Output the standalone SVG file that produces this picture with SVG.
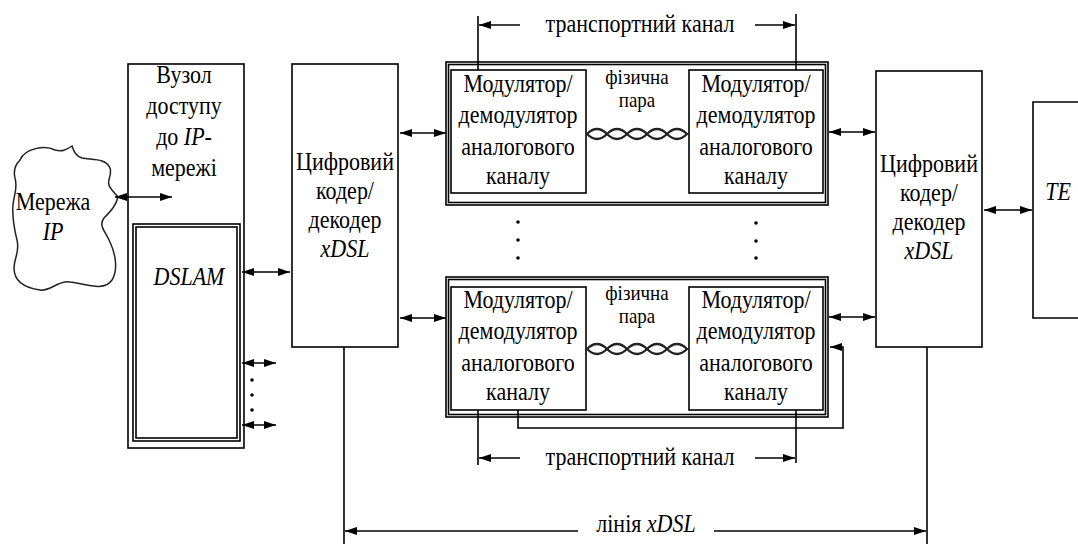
<svg xmlns="http://www.w3.org/2000/svg" width="1078" height="544" viewBox="0 0 1078 544">
<style>
.b{fill:none;stroke:#000;stroke-width:1.6}
.l{fill:none;stroke:#000;stroke-width:1.6}
.t{font-family:'Liberation Serif',serif;font-size:22px;fill:#000;text-anchor:middle}
.s{font-family:'Liberation Serif',serif;font-size:19px;fill:#000;text-anchor:middle}
.i{font-style:italic}
.tw{fill:none;stroke:#222;stroke-width:2.2}
</style>
<defs>
<marker id="ah" markerWidth="12" markerHeight="8" refX="12" refY="4" orient="auto-start-reverse" markerUnits="userSpaceOnUse">
<path d="M0,0 L12,4 L0,8 Z" fill="#000"/>
</marker>
</defs>
<rect width="1078" height="544" fill="#fff"/>

<g id="cloud">
<path d="M20,160 C25,148 45,145 55,150 C62,152 66,150 72,146 C74,152 76,156 82,158 C92,160 106,158 110,168 C113,176 104,182 112,190 L118,197 C116,205 112,210 104,218 C98,226 106,232 110,242 C116,255 118,270 112,280 C104,292 86,284 70,282 C58,280 50,292 40,290 C26,288 14,282 14,268 C14,258 20,252 17,240 C14,228 12,218 13,205 C14,194 18,188 15,178 C13,170 16,164 20,160 Z" fill="none" stroke="#222" stroke-width="1.5"/>
<text class="t" transform="translate(53,210) scale(1,1.15)">Мережа</text>
<text class="t i" transform="translate(53,240) scale(1,1.15)">IP</text>
</g>

<g id="access-node">
<rect class="b" x="128" y="64" width="116" height="384"/>
<text class="t" transform="translate(184,83) scale(1,1.15)">Вузол</text>
<text class="t" transform="translate(184,114) scale(1,1.15)">доступу</text>
<text class="t" transform="translate(184,145) scale(1,1.15)">до <tspan class="i">IP</tspan>-</text>
<text class="t" transform="translate(184,176) scale(1,1.15)">мережі</text>
</g>

<g id="dslam">
<rect class="b" x="133" y="224" width="107" height="217"/>
<rect class="l" x="136" y="227" width="101" height="211" stroke-width="1"/>
<text class="t i" transform="translate(189,285) scale(1,1.15)">DSLAM</text>
</g>

<g id="coder-left">
<rect class="b" x="292" y="64" width="106" height="283"/>
<text class="t" transform="translate(345,170) scale(1,1.15)">Цифровий</text>
<text class="t" transform="translate(345,199) scale(1,1.15)">кодер/</text>
<text class="t" transform="translate(345,228) scale(1,1.15)">декодер</text>
<text class="t i" transform="translate(345,257) scale(1,1.15)">xDSL</text>
</g>

<g id="group-upper">
<rect class="b" x="446" y="62" width="382" height="143"/>
<rect class="l" x="448.5" y="64.5" width="377" height="138" stroke-width="1"/>
</g>
<g id="mod-upper-left">
<rect class="b" x="451" y="70" width="135" height="123"/>
<text class="t" transform="translate(518,92) scale(1,1.15)">Модулятор/</text>
<text class="t" transform="translate(518,123) scale(1,1.15)">демодулятор</text>
<text class="t" transform="translate(518,155) scale(1,1.15)">аналогового</text>
<text class="t" transform="translate(518,184) scale(1,1.15)">каналу</text>
</g>
<g id="mod-upper-right">
<rect class="b" x="689" y="70" width="134" height="123"/>
<text class="t" transform="translate(756,92) scale(1,1.15)">Модулятор/</text>
<text class="t" transform="translate(756,123) scale(1,1.15)">демодулятор</text>
<text class="t" transform="translate(756,155) scale(1,1.15)">аналогового</text>
<text class="t" transform="translate(756,184) scale(1,1.15)">каналу</text>
</g>
<g id="pair-upper">
<text class="s" transform="translate(637,84) scale(1,1.15)">фізична</text>
<text class="s" transform="translate(637,107) scale(1,1.15)">пара</text>
<path class="tw" d="M587,134 Q597,124 607,134 T627,134 T647,134 T667,134 T687,134 L689,134"/>
<path class="tw" d="M587,134 Q597,144 607,134 T627,134 T647,134 T667,134 T687,134 L689,134"/>
</g>

<g id="group-lower">
<rect class="b" x="446" y="277" width="382" height="140"/>
<rect class="l" x="448.5" y="279.5" width="377" height="135" stroke-width="1"/>
</g>
<g id="mod-lower-left">
<rect class="b" x="451" y="287" width="135" height="123"/>
<text class="t" transform="translate(518,308) scale(1,1.15)">Модулятор/</text>
<text class="t" transform="translate(518,339) scale(1,1.15)">демодулятор</text>
<text class="t" transform="translate(518,371) scale(1,1.15)">аналогового</text>
<text class="t" transform="translate(518,400) scale(1,1.15)">каналу</text>
</g>
<g id="mod-lower-right">
<rect class="b" x="689" y="287" width="134" height="123"/>
<text class="t" transform="translate(756,308) scale(1,1.15)">Модулятор/</text>
<text class="t" transform="translate(756,339) scale(1,1.15)">демодулятор</text>
<text class="t" transform="translate(756,371) scale(1,1.15)">аналогового</text>
<text class="t" transform="translate(756,400) scale(1,1.15)">каналу</text>
</g>
<g id="pair-lower">
<text class="s" transform="translate(637,300) scale(1,1.15)">фізична</text>
<text class="s" transform="translate(637,323) scale(1,1.15)">пара</text>
<path class="tw" d="M587,349 Q597,339 607,349 T627,349 T647,349 T667,349 T687,349 L689,349"/>
<path class="tw" d="M587,349 Q597,359 607,349 T627,349 T647,349 T667,349 T687,349 L689,349"/>
</g>

<g id="coder-right">
<rect class="b" x="876" y="71" width="106" height="276"/>
<text class="t" transform="translate(929,172) scale(1,1.15)">Цифровий</text>
<text class="t" transform="translate(929,201) scale(1,1.15)">кодер/</text>
<text class="t" transform="translate(929,230) scale(1,1.15)">декодер</text>
<text class="t i" transform="translate(929,259) scale(1,1.15)">xDSL</text>
</g>

<g id="te">
<path class="b" d="M1080,102 H1033 V318 H1080"/>
<text class="t i" transform="translate(1058,200) scale(1,1.15)">TE</text>
</g>

<g id="connectors">
<line class="l" x1="115" y1="197" x2="172" y2="197" marker-start="url(#ah)" marker-end="url(#ah)"/>
<line class="l" x1="242" y1="272" x2="290" y2="272" marker-start="url(#ah)" marker-end="url(#ah)"/>
<line class="l" x1="242" y1="363" x2="276" y2="363" marker-start="url(#ah)" marker-end="url(#ah)"/>
<line class="l" x1="242" y1="425" x2="276" y2="425" marker-start="url(#ah)" marker-end="url(#ah)"/>
<g fill="#000">
<circle cx="252" cy="380" r="1.8"/><circle cx="252" cy="395" r="1.8"/><circle cx="252" cy="410" r="1.8"/>
<circle cx="518" cy="222" r="1.8"/><circle cx="518" cy="240" r="1.8"/><circle cx="518" cy="258" r="1.8"/>
<circle cx="756" cy="223" r="1.8"/><circle cx="756" cy="241" r="1.8"/><circle cx="756" cy="258" r="1.8"/>
</g>
<line class="l" x1="400" y1="133" x2="446" y2="133" marker-start="url(#ah)" marker-end="url(#ah)"/>
<line class="l" x1="400" y1="318" x2="446" y2="318" marker-start="url(#ah)" marker-end="url(#ah)"/>
<line class="l" x1="829" y1="132" x2="875" y2="132" marker-start="url(#ah)" marker-end="url(#ah)"/>
<line class="l" x1="829" y1="317" x2="875" y2="317" marker-start="url(#ah)" marker-end="url(#ah)"/>
<line class="l" x1="984" y1="210" x2="1032" y2="210" marker-start="url(#ah)" marker-end="url(#ah)"/>
<path class="l" d="M518,410 V428 H843 V347 H830" marker-end="url(#ah)"/>
<path class="l" d="M478,70 V16"/>
<path class="l" d="M796,70 V14"/>
<line class="l" x1="520" y1="25" x2="479" y2="25" marker-end="url(#ah)"/>
<line class="l" x1="755" y1="25" x2="795" y2="25" marker-end="url(#ah)"/>
<text class="t" transform="translate(640,32) scale(1,1.15)">транспортний канал</text>
<path class="l" d="M478,410 V465"/>
<path class="l" d="M796,410 V463"/>
<line class="l" x1="520" y1="458" x2="479" y2="458" marker-end="url(#ah)"/>
<line class="l" x1="755" y1="458" x2="795" y2="458" marker-end="url(#ah)"/>
<text class="t" transform="translate(640,465) scale(1,1.15)">транспортний канал</text>
<path class="l" d="M344,347 V544"/>
<path class="l" d="M927,347 V544"/>
<line class="l" x1="578" y1="531" x2="345" y2="531" marker-end="url(#ah)"/>
<line class="l" x1="714" y1="531" x2="926" y2="531" marker-end="url(#ah)"/>
<text class="t" transform="translate(646,532) scale(1,1.15)">лінія <tspan class="i">xDSL</tspan></text>
</g>
</svg>
